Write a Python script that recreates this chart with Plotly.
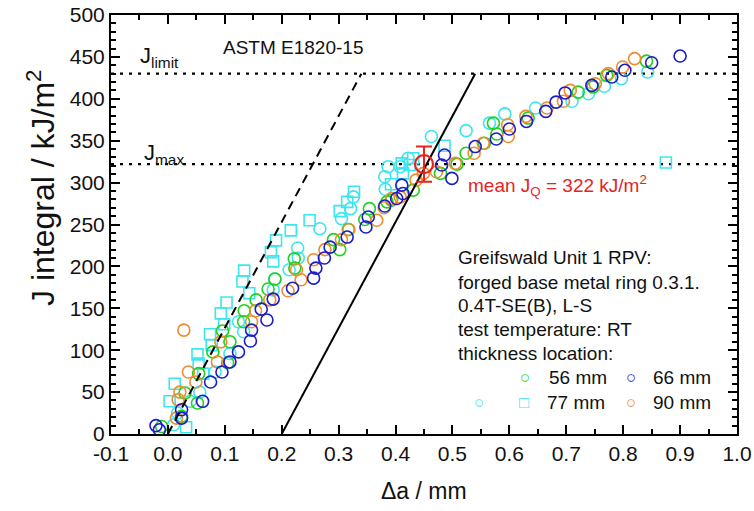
import plotly.graph_objects as go

# Crack extension (mm) and J-integral (kJ/m^2) per thickness location
da_56 = [0.841, 0.771, 0.747, 0.721, 0.633, 0.572, 0.578, 0.556, 0.524, 0.508, 0.479, 0.431,
         0.393, 0.385, 0.354, 0.346, 0.317, 0.291, 0.302, 0.222, 0.223, 0.188, 0.176, 0.155,
         0.134, 0.133, 0.096, 0.109, 0.079, 0.105, 0.054, 0.030, 0.052, 0.024, -0.011]
J_56 = [445, 428, 414, 408, 377, 371, 358, 347, 335, 322, 311, 291,
        279, 277, 269, 256, 244, 232, 220, 209, 198, 185, 173, 160,
        147, 134, 123, 110, 98, 85, 72, 49, 37, 21, 9]

da_66 = [0.900, 0.850, 0.803, 0.780, 0.745, 0.698, 0.682, 0.664, 0.630, 0.600, 0.577, 0.540,
         0.486, 0.481, 0.499, 0.411, 0.413, 0.402, 0.381, 0.352, 0.348, 0.315, 0.285, 0.275,
         0.260, 0.256, 0.219, 0.185, 0.164, 0.174, 0.147, 0.145, 0.124, 0.109, 0.095, 0.075,
         0.061, 0.024, 0.024, -0.021, -0.015]
J_66 = [451, 443, 434, 426, 416, 407, 396, 385, 373, 364, 352, 343,
        333, 321, 305, 297, 287, 281, 272, 259, 247, 235, 223, 210,
        198, 186, 174, 161, 149, 136, 124, 111, 98, 86, 74, 62,
        39, 29, 19, 10, 5]

da_77c = [0.843, 0.797, 0.767, 0.739, 0.710, 0.646, 0.592, 0.565, 0.524, 0.463, 0.422, 0.408,
          0.387, 0.381, 0.382, 0.326, 0.321, 0.305, 0.267, 0.228, 0.229, 0.213, 0.188, 0.185,
          0.124, 0.133, 0.109, 0.083, 0.056, 0.039, 0.017, 0.010]
J_77c = [432, 424, 415, 406, 397, 389, 382, 371, 362, 355, 329, 319,
         319, 307, 292, 283, 269, 257, 245, 222, 210, 196, 185, 172,
         134, 122, 96, 74, 50, 39, 25, 11]

da_77s = [0.875, 0.486, 0.431, 0.425, 0.411, 0.413, 0.392, 0.327, 0.315, 0.302, 0.249, 0.216,
          0.190, 0.181, 0.185, 0.134, 0.131, 0.143, 0.103, 0.093, 0.099, 0.074, 0.077, 0.052,
          0.054, 0.062, 0.012, 0.003, 0.032]
J_77s = [324, 344, 329, 321, 323, 311, 298, 289, 277, 266, 255, 243,
         231, 217, 206, 195, 182, 168, 157, 144, 131, 119, 106, 95,
         84, 72, 60, 39, 8]

da_90 = [0.820, 0.799, 0.774, 0.751, 0.707, 0.695, 0.666, 0.629, 0.597, 0.598, 0.554, 0.538,
         0.505, 0.472, 0.449, 0.436, 0.408, 0.393, 0.380, 0.367, 0.318, 0.305, 0.276, 0.256,
         0.226, 0.234, 0.211, 0.179, 0.154, 0.147, 0.093, 0.087, 0.036, 0.049, 0.021, 0.018,
         0.015, 0.028]
J_90 = [448, 438, 430, 418, 410, 397, 389, 379, 369, 355, 347, 335,
        323, 313, 311, 303, 283, 281, 270, 255, 244, 232, 220, 208,
        196, 184, 171, 160, 147, 134, 110, 86, 74, 62, 50, 41,
        19, 124]

# Qualification limits and the mean result
J_limit = 430
J_max = 322
JQ_mean_da = 0.45
JQ_mean = 322
JQ_err = 21
blunt_slope = 1265      # kJ/m^2 per mm
offset_lines = [0.0, 0.2]

x_ticks = [round(-0.1 + 0.1 * i, 1) for i in range(12)]
y_ticks = list(range(0, 501, 50))

GREEN = "#1ed21e"
BLUE = "#1c1cc8"
CYAN = "#3ce6f0"
ORANGE = "#f08c2d"
RED = "#e8231e"
FONT = "Arial, Liberation Sans, sans-serif"

fig = go.Figure()

circle = dict(symbol="circle-open", size=12)
fig.add_trace(go.Scatter(x=da_77s, y=J_77s, mode="markers",
                         marker=dict(symbol="square-open", size=11, color=CYAN, line=dict(width=1.6, color=CYAN))))
fig.add_trace(go.Scatter(x=da_77c, y=J_77c, mode="markers",
                         marker=dict(circle, color=CYAN, line=dict(width=1.6, color=CYAN))))
fig.add_trace(go.Scatter(x=da_56, y=J_56, mode="markers",
                         marker=dict(circle, color=GREEN, line=dict(width=1.6, color=GREEN))))
fig.add_trace(go.Scatter(x=da_90, y=J_90, mode="markers",
                         marker=dict(circle, color=ORANGE, line=dict(width=1.6, color=ORANGE))))
fig.add_trace(go.Scatter(x=da_66, y=J_66, mode="markers",
                         marker=dict(circle, color=BLUE, line=dict(width=1.6, color=BLUE))))

# Blunting line and 0.2 mm offset line, up to J_limit
for off, dash in zip(offset_lines, ["9px,6px", "solid"]):
    fig.add_trace(go.Scatter(x=[off, off + J_limit / blunt_slope], y=[0, J_limit], mode="lines",
                             line=dict(color="black", width=2, dash=dash)))

fig.add_trace(go.Scatter(x=[JQ_mean_da], y=[JQ_mean], mode="markers",
                         marker=dict(symbol="circle-open", size=18, color=RED, line=dict(width=2.2, color=RED)),
                         error_y=dict(type="constant", value=JQ_err, color=RED, thickness=2, width=8)))

for yv in [J_limit, J_max]:
    fig.add_shape(type="line", xref="paper", x0=0, x1=1, yref="y", y0=yv, y1=yv,
                  line=dict(color="black", width=2.2, dash="3px,6px"), layer="below")

fig.update_xaxes(range=[-0.1, 1.0], tickmode="array", tickvals=x_ticks,
                 ticktext=[f"{v:.1f}" for v in x_ticks],
                 showline=True, linecolor="black", linewidth=2, mirror="ticks",
                 ticks="inside", ticklen=9, tickwidth=2, tickcolor="black",
                 minor=dict(dtick=0.05, tick0=0, ticks="inside", ticklen=5, tickwidth=1.5, tickcolor="black"),
                 showgrid=False, zeroline=False,
                 tickfont=dict(family=FONT, size=21, color="#111"))
fig.update_yaxes(range=[0, 500], tickmode="array", tickvals=y_ticks,
                 showline=True, linecolor="black", linewidth=2, mirror="ticks",
                 ticks="inside", ticklen=9, tickwidth=2, tickcolor="black",
                 minor=dict(dtick=10, tick0=0, ticks="inside", ticklen=5, tickwidth=1.5, tickcolor="black"),
                 showgrid=False, zeroline=False,
                 tickfont=dict(family=FONT, size=21, color="#111"))


def px_x(p):
    return (p - 111) / 626


def px_y(p):
    return (434 - p) / 419


def label(text, xp, yp, size=19, color="#111", xanchor="left", **kw):
    return dict(text=text, x=px_x(xp), y=px_y(yp), xref="paper", yref="paper",
                xanchor=xanchor, yanchor="middle", showarrow=False,
                font=dict(family=FONT, size=size, color=color), **kw)


ann = [
    label("Δa / mm", 424, 491, size=23, xanchor="center"),
    label("J integral / kJ/m<sup>2</sup>", 41, 188, size=32, xanchor="center", textangle=-90),
    label("ASTM E1820-15", 293, 48, xanchor="center"),
    label("J<sub>limit</sub>", 138, 57, size=22),
    label("J<sub>max</sub>", 142, 154, size=22),
    label(f"mean J<sub>Q</sub> = {JQ_mean} kJ/m<sup>2</sup>", 466, 185, color=RED),
]

info = ["Greifswald Unit 1 RPV:", "forged base metal ring 0.3.1.", "0.4T-SE(B), L-S",
        "test temperature: RT", "thickness location:"]
for line, yp in zip(info, [257, 282, 305, 329, 353]):
    ann.append(label(line, 456, yp))

legend_rows = [("○", 525, 377, GREEN), ("○", 631, 377, BLUE), ("○", 479, 402, CYAN),
               ("□", 524, 402, CYAN), ("○", 631, 402, ORANGE)]
for text, xp, yp, col in legend_rows:
    ann.append(label(text, xp, yp, size=17, color=col, xanchor="center"))
for text, xp, yp in [("56 mm", 547, 377), ("66 mm", 651, 377), ("77 mm", 545, 402), ("90 mm", 651, 402)]:
    ann.append(label(text, xp, yp))

fig.update_layout(width=754, height=511, margin=dict(l=111, r=17, t=15, b=77, autoexpand=False),
                  paper_bgcolor="white", plot_bgcolor="white", showlegend=False,
                  annotations=ann, font=dict(family=FONT))

fig.write_html("out.html")
